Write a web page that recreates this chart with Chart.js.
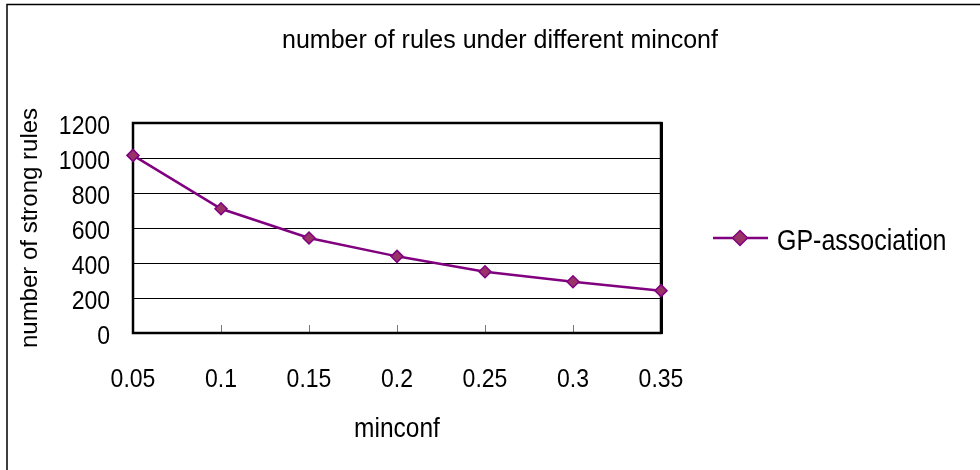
<!DOCTYPE html>
<html>
<head>
<meta charset="utf-8">
<script src="https://cdn.jsdelivr.net/npm/chart.js@4.4.1/dist/chart.umd.min.js"></script>
<style>
  html, body { margin: 0; padding: 0; background: #fff; }
  #wrap { width: 980px; height: 470px; position: relative; }
</style>
</head>
<body>
<div id="wrap"><canvas id="chart" width="980" height="470"></canvas></div>
<script>
// --- DATA ---
const minconf = ['0.05', '0.1', '0.15', '0.2', '0.25', '0.3', '0.35'];
const strongRules = [1015, 710, 543, 438, 350, 293, 242];
const seriesName = 'GP-association';
const yTicks = [0, 200, 400, 600, 800, 1000, 1200];

const FONT = '"Liberation Sans", Arial, sans-serif';
const LINE = '#800080';
const MARK = '#993366';
const STRETCH = 1.16; // labels are drawn a little taller than wide

// text drawn with a vertical stretch, anchored at its baseline
function tallText(ctx, text, x, y, size, align) {
    ctx.save();
    ctx.translate(x, y);
    ctx.scale(1, STRETCH);
    ctx.font = size + 'px ' + FONT;
    ctx.textAlign = align;
    ctx.textBaseline = 'alphabetic';
    ctx.fillStyle = '#000';
    ctx.fillText(text, 0, 0);
    ctx.restore();
}

// frame, inner ticks, labels, title, legend and outer border
const decorations = {
    id: 'decorations',
    beforeDatasetsDraw(chart) {
        const { ctx, chartArea: a, scales } = chart;
        ctx.save();
        // little inward ticks on the category axis
        ctx.strokeStyle = '#777';
        ctx.lineWidth = 1;
        minconf.forEach((_, i) => {
            const x = Math.round(scales.x.getPixelForValue(i)) + 0.5;
            ctx.beginPath();
            ctx.moveTo(x, a.bottom);
            ctx.lineTo(x, a.bottom - 8);
            ctx.stroke();
        });
        // plot frame
        ctx.strokeStyle = '#000';
        ctx.lineWidth = 2.5;
        ctx.strokeRect(a.left, a.top, a.right - a.left, a.bottom - a.top);
        ctx.lineWidth = 3;
        ctx.beginPath();
        ctx.moveTo(a.right + 0.5, a.top - 1);
        ctx.lineTo(a.right + 0.5, a.bottom + 1);
        ctx.stroke();
        ctx.restore();
    },
    afterDraw(chart) {
        const { ctx, chartArea: a, scales } = chart;

        // tick labels
        yTicks.forEach(v => {
            const y = scales.y.getPixelForValue(v);
            tallText(ctx, String(v), 110, y + 1.5 + 0.358 * 23 * STRETCH, 23, 'right');
        });
        minconf.forEach((lbl, i) => {
            tallText(ctx, lbl, scales.x.getPixelForValue(i), 387, 23, 'center');
        });

        // axis title under the category axis
        tallText(ctx, 'minconf', (a.left + a.right) / 2, 437, 24.5, 'center');

        ctx.save();
        // outer border (left + top)
        ctx.strokeStyle = '#000';
        ctx.lineWidth = 1.5;
        ctx.beginPath();
        ctx.moveTo(7, 470);
        ctx.lineTo(7, 4.5);
        ctx.lineTo(980, 4.5);
        ctx.stroke();

        // title
        ctx.fillStyle = '#000';
        ctx.font = '25px ' + FONT;
        ctx.textAlign = 'center';
        ctx.textBaseline = 'alphabetic';
        ctx.fillText('number of rules under different minconf', 500, 48);

        // legend
        const ly = 238;
        ctx.strokeStyle = LINE;
        ctx.lineWidth = 2.5;
        ctx.beginPath();
        ctx.moveTo(713, ly);
        ctx.lineTo(768, ly);
        ctx.stroke();
        ctx.beginPath();
        ctx.moveTo(740, ly - 7.5);
        ctx.lineTo(747.5, ly);
        ctx.lineTo(740, ly + 7.5);
        ctx.lineTo(732.5, ly);
        ctx.closePath();
        ctx.fillStyle = MARK;
        ctx.fill();
        ctx.lineWidth = 1.5;
        ctx.stroke();
        ctx.restore();
        tallText(ctx, seriesName, 777, 250, 25, 'left');
    }
};

new Chart(document.getElementById('chart'), {
    type: 'line',
    data: {
        labels: minconf,
        datasets: [{
            label: seriesName,
            data: strongRules,
            borderColor: LINE,
            borderWidth: 2.5,
            pointStyle: 'rectRot',
            pointRadius: 6,
            pointHoverRadius: 6,
            pointBackgroundColor: MARK,
            pointBorderColor: LINE,
            pointBorderWidth: 1.5,
            tension: 0,
            clip: false
        }]
    },
    options: {
        responsive: false,
        animation: false,
        events: [],
        layout: { padding: { top: 123, right: 319, bottom: 26, left: 0 } },
        plugins: {
            legend: { display: false },
            title: { display: false },
            tooltip: { enabled: false }
        },
        scales: {
            x: {
                offset: false,
                grid: { display: false },
                border: { display: false },
                ticks: { display: false, autoSkip: false },
                afterFit(scale) { scale.height = 111; }
            },
            y: {
                min: 0,
                max: 1200,
                afterBuildTicks(scale) { scale.ticks = yTicks.map(v => ({ value: v })); },
                grid: { color: '#000', lineWidth: 1, drawTicks: false },
                border: { display: false },
                ticks: { display: false, autoSkip: false },
                title: {
                    display: true,
                    text: 'number of strong rules',
                    color: '#000',
                    font: { family: FONT, size: 24 },
                    padding: { top: 16, bottom: 0 }
                },
                afterFit(scale) { scale.width = 133; }
            }
        }
    },
    plugins: [decorations]
});
</script>
</body>
</html>
